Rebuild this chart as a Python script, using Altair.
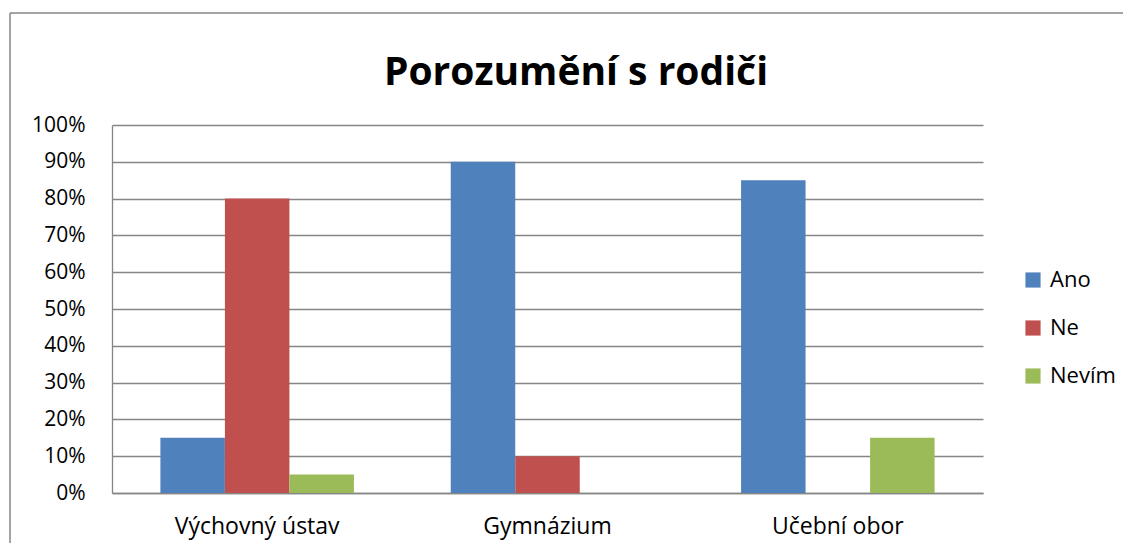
import altair as alt
import pandas as pd

title_text = "Porozumění s rodiči"
categories = ["Výchovný ústav", "Gymnázium", "Učební obor"]
series = ["Ano", "Ne", "Nevím"]
ano = [0.15, 0.90, 0.85]
ne = [0.80, 0.10, 0.00]
nevim = [0.05, 0.00, 0.15]
colors = ["#4F81BD", "#C0504D", "#9BBB59"]

rows = []
for i, c in enumerate(categories):
    for s, vals in zip(series, [ano, ne, nevim]):
        rows.append({"kategorie": c, "odpoved": s, "hodnota": vals[i]})
df = pd.DataFrame(rows)

FONT = "Open Sans"
W, H = 871, 368

bars = alt.Chart(df).mark_bar(size=64.5).encode(
    x=alt.X("kategorie:N", sort=categories,
            scale=alt.Scale(paddingInner=0, paddingOuter=0),
            axis=alt.Axis(title=None, labelAngle=0, labelFontSize=23, labelFont=FONT,
                          labelColor="#000000", ticks=False, labelPadding=22,
                          domainColor="#868686", domainWidth=1.3, grid=False)),
    xOffset=alt.XOffset("odpoved:N", sort=series,
                        scale=alt.Scale(paddingInner=0, paddingOuter=0.75)),
    y=alt.Y("hodnota:Q", scale=alt.Scale(domain=[0, 1], nice=False),
            axis=alt.Axis(title=None, format=".0%", values=[i / 10 for i in range(11)],
                          labelFontSize=21, labelFont=FONT, labelColor="#000000",
                          ticks=False, labelPadding=27, domainColor="#868686",
                          domainWidth=1.3, gridColor="#868686", gridWidth=1.3)),
    color=alt.Color("odpoved:N", sort=series,
                    scale=alt.Scale(domain=series, range=colors),
                    legend=alt.Legend(title=None, orient="none", legendX=910, legendY=144,
                                      symbolType="square", symbolSize=230,
                                      symbolStrokeWidth=0, labelFontSize=22,
                                      labelFont=FONT, labelColor="#000000",
                                      rowPadding=26, labelOffset=6)),
)

one = pd.DataFrame({"t": [title_text]})

title = alt.Chart(one).mark_text(
    font=FONT, fontSize=39, fontWeight="bold", color="#000000",
    align="center", baseline="alphabetic"
).encode(text="t:N", x=alt.value(464), y=alt.value(-40))

frame_left = alt.Chart(one).mark_rule(stroke="#868686", strokeWidth=1.5).encode(
    x=alt.value(-102), y=alt.value(-112), y2=alt.value(426)
)
frame_top = alt.Chart(one).mark_rule(stroke="#868686", strokeWidth=1.5).encode(
    x=alt.value(-102), x2=alt.value(1030), y=alt.value(-112)
)

chart = alt.layer(frame_left, frame_top, bars, title).properties(
    width=W, height=H,
    autosize=alt.AutoSizeParams(type="none"),
    padding={"left": 104, "top": 117, "right": 140, "bottom": 50},
).configure_view(stroke=None)

chart.save("out.html", embed_options={"renderer": "svg", "actions": False})
